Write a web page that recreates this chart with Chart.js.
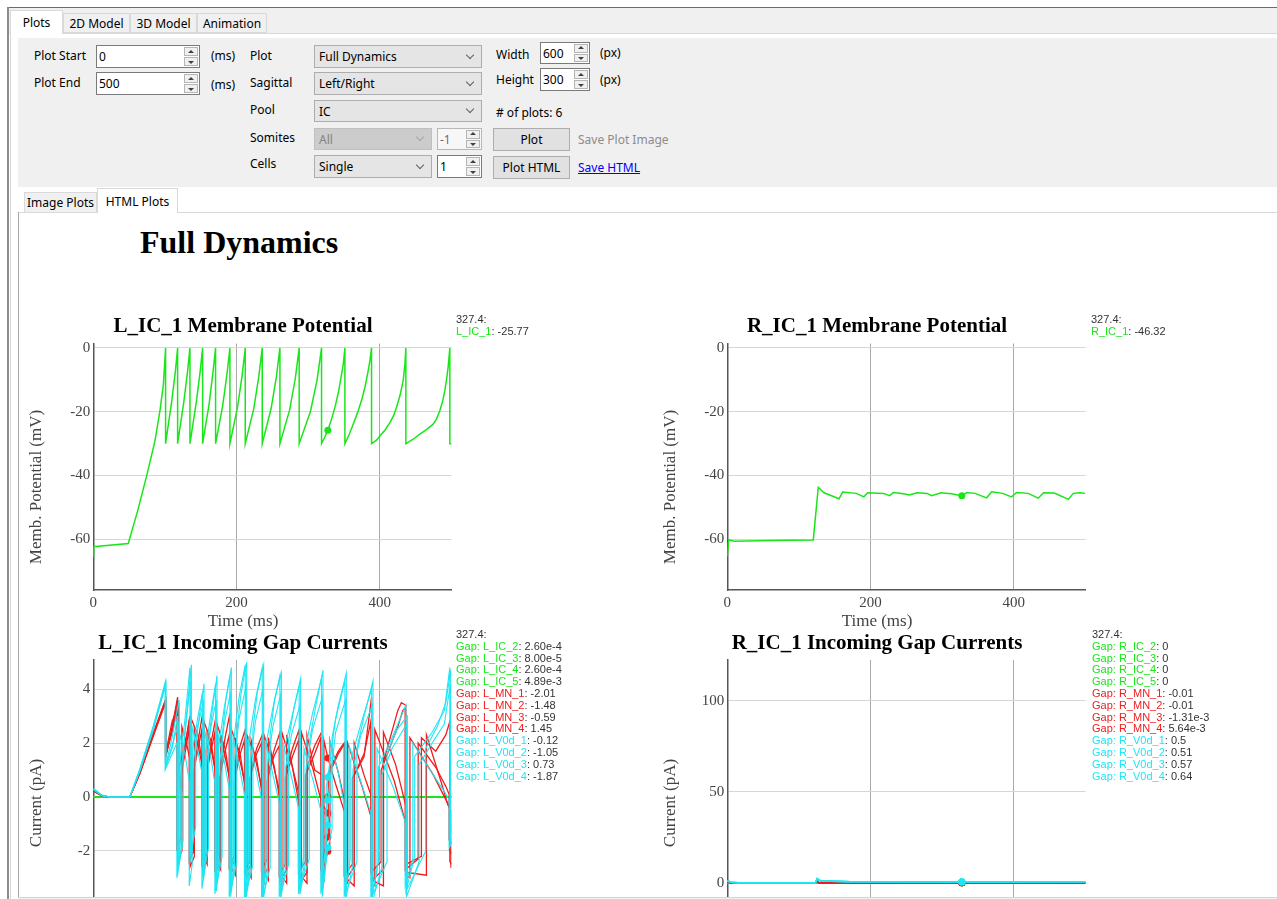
<!DOCTYPE html>
<html>
<head>
<meta charset="utf-8">
<title>Full Dynamics</title>
<script src="https://cdn.jsdelivr.net/npm/chart.js@4.4.1/dist/chart.umd.min.js"></script>
<style>
  html, body { margin: 0; padding: 0; }
  body { width: 1277px; height: 899px; overflow: hidden; position: relative; background: #fff;
         font-family: "Noto Sans", sans-serif; font-size: 12px; color: #000; }
  .a { position: absolute; }
  .lbl { position: absolute; line-height: 16px; white-space: nowrap; }
  .tab { position: absolute; box-sizing: border-box; border: 1px solid #d9d9d9; background: #f0f0f0;
         display: flex; align-items: center; justify-content: center; white-space: nowrap; }
  .tab.sel { background: #fff; border-bottom: none; z-index: 2; }
  .num { position: absolute; box-sizing: border-box; background: #fff; border: 1px solid #7a7a7a; }
  .num .v, .combo .v { position: absolute; top: 0; bottom: 0; display: flex; align-items: center; white-space: nowrap; }
  .num .v { left: 2px; }
  .num .sp { position: absolute; right: 1px; top: 1px; bottom: 1px; width: 14px; }
  .num .sp b { position: absolute; left: 0; right: 0; height: calc(50% - 0.5px); box-sizing: border-box;
               background: #f0f0f0; border: 1px solid #b5b5b5; }
  .num .sp b.up { top: 0; }
  .num .sp b.dn { bottom: 0; }
  .num .sp b::after { content: ''; position: absolute; left: 50%; top: 50%; margin-left: -3px;
                      border-left: 3px solid transparent; border-right: 3px solid transparent; }
  .num .sp b.up::after { border-bottom: 3px solid #404040; margin-top: -2px; }
  .num .sp b.dn::after { border-top: 3px solid #404040; margin-top: -1px; }
  .num.dis { background: #f7f7f7; border-color: #b8b8b8; color: #6d6d6d; }
  .combo { position: absolute; box-sizing: border-box; background: #e5e5e5; border: 1px solid #adadad; }
  .combo .v { left: 4px; }
  .combo::after { content: ''; position: absolute; right: 8px; top: 50%; width: 5px; height: 5px; margin-top: -5px;
                  border-right: 1px solid #606060; border-bottom: 1px solid #606060; transform: rotate(45deg); }
  .combo.dis { background: #cccccc; border-color: #bfbfbf; color: #838383; }
  .combo.dis::after { border-color: #a6a6a6; }
  .btn { position: absolute; box-sizing: border-box; background: #e1e1e1; border: 1px solid #adadad;
         display: flex; align-items: center; justify-content: center; white-space: nowrap; }
  #content { position: absolute; left: 0; top: 0; width: 1277px; height: 897px; clip-path: inset(213px 0 0 19px); }
  #content canvas { position: absolute; }
  h1 { position: absolute; margin: 0; left: 140px; top: 226px; font: bold 32px/32px "Liberation Serif", serif; color: #000; }
  .axt { position: absolute; font: 17px/17px "Liberation Serif", serif; color: #444; white-space: nowrap;
         transform: translate(-50%, -50%); }
  .axt.rot { transform: translate(-50%, -50%) rotate(-90deg); }
  .hov { position: absolute; font: 11px/11.8px "Liberation Sans", Arial, sans-serif; color: #333; white-space: nowrap; }
  .g { color: #19e619; } .r { color: #f01c1c; } .c { color: #1ee6f4; }
</style>
</head>
<body>

<!-- window frame and tab strip -->
<div class="a" style="left:8px;top:7px;width:1269px;height:1px;background:#6b6b6b"></div>
<div class="a" style="left:7px;top:7px;width:2px;height:892px;background:#8c8c8c"></div>
<div class="a" style="left:9px;top:8px;width:1268px;height:25px;background:#f0f0f0"></div>
<div class="a" style="left:9px;top:33px;width:1268px;height:1px;background:#d9d9d9"></div>
<div class="a" style="left:10px;top:33px;width:1px;height:866px;background:#d6d6d6"></div>
<div class="tab sel" style="left:10px;top:10px;width:53px;height:24px">Plots</div>
<div class="tab" style="left:63px;top:13px;width:67px;height:20px">2D Model</div>
<div class="tab" style="left:130px;top:13px;width:67px;height:20px">3D Model</div>
<div class="tab" style="left:197px;top:13px;width:70px;height:20px">Animation</div>

<!-- control panel -->
<div class="a" style="left:18px;top:38px;width:1259px;height:149px;background:#f0f0f0"></div>

<div class="lbl" style="left:34px;top:48px">Plot Start</div>
<div class="num" style="left:96px;top:45px;width:104px;height:23px"><span class="v">0</span><span class="sp"><b class="up"></b><b class="dn"></b></span></div>
<div class="lbl" style="left:211px;top:48px">(ms)</div>
<div class="lbl" style="left:34px;top:75px">Plot End</div>
<div class="num" style="left:96px;top:72px;width:104px;height:23px"><span class="v">500</span><span class="sp"><b class="up"></b><b class="dn"></b></span></div>
<div class="lbl" style="left:211px;top:77px">(ms)</div>

<div class="lbl" style="left:250px;top:48px">Plot</div>
<div class="combo" style="left:314px;top:45px;width:168px;height:23px"><span class="v">Full Dynamics</span></div>
<div class="lbl" style="left:250px;top:75px">Sagittal</div>
<div class="combo" style="left:314px;top:72px;width:168px;height:23px"><span class="v">Left/Right</span></div>
<div class="lbl" style="left:250px;top:102px">Pool</div>
<div class="combo" style="left:314px;top:100px;width:168px;height:22px"><span class="v">IC</span></div>
<div class="lbl" style="left:250px;top:130px">Somites</div>
<div class="combo dis" style="left:314px;top:128px;width:118px;height:22px"><span class="v">All</span></div>
<div class="num dis" style="left:437px;top:128px;width:45px;height:22px"><span class="v">-1</span><span class="sp"><b class="up"></b><b class="dn"></b></span></div>
<div class="lbl" style="left:250px;top:156px">Cells</div>
<div class="combo" style="left:314px;top:155px;width:118px;height:23px"><span class="v">Single</span></div>
<div class="num" style="left:437px;top:155px;width:45px;height:23px"><span class="v">1</span><span class="sp"><b class="up"></b><b class="dn"></b></span></div>

<div class="lbl" style="left:496px;top:47px">Width</div>
<div class="num" style="left:540px;top:42px;width:50px;height:22px"><span class="v">600</span><span class="sp"><b class="up"></b><b class="dn"></b></span></div>
<div class="lbl" style="left:600px;top:45px">(px)</div>
<div class="lbl" style="left:496px;top:72px">Height</div>
<div class="num" style="left:540px;top:68px;width:50px;height:23px"><span class="v">300</span><span class="sp"><b class="up"></b><b class="dn"></b></span></div>
<div class="lbl" style="left:600px;top:72px">(px)</div>
<div class="lbl" style="left:496px;top:105px"># of plots: 6</div>
<div class="btn" style="left:493px;top:128px;width:77px;height:23px">Plot</div>
<div class="lbl" style="left:578px;top:132px;width:91px;overflow:hidden;color:#8c8c8c">Save Plot Images</div>
<div class="btn" style="left:493px;top:156px;width:77px;height:23px">Plot HTML</div>
<div class="lbl" style="left:578px;top:160px;color:#0000ff;text-decoration:underline">Save HTML</div>

<!-- inner tabs and page border -->
<div class="a" style="left:18px;top:212px;width:1259px;height:1px;background:#d9d9d9"></div>
<div class="a" style="left:18px;top:212px;width:1px;height:686px;background:#a6a6a6"></div>
<div class="tab" style="left:24px;top:192px;width:73px;height:21px">Image Plots</div>
<div class="tab sel" style="left:97px;top:188px;width:81px;height:25px">HTML Plots</div>
<div class="a" style="left:18px;top:897px;width:1259px;height:1px;background:#d3d3d3"></div>
<div class="a" style="left:18px;top:898px;width:1259px;height:1px;background:#f2f2f2"></div>

<!-- html plots page -->
<div id="content">
  <h1>Full Dynamics</h1>

  <canvas id="lMemb" width="446" height="327" style="left:20px;top:305px"></canvas>
  <canvas id="rMemb" width="446" height="327" style="left:654px;top:305px"></canvas>
  <canvas id="lGap" width="446" height="341" style="left:20px;top:622px"></canvas>
  <canvas id="rGap" width="446" height="321" style="left:654px;top:622px"></canvas>

  <div class="axt rot" style="left:35px;top:487px">Memb. Potential (mV)</div>
  <div class="axt rot" style="left:669px;top:487px">Memb. Potential (mV)</div>
  <div class="axt" style="left:243px;top:620px">Time (ms)</div>
  <div class="axt" style="left:877px;top:620px">Time (ms)</div>
  <div class="axt rot" style="left:35px;top:803px">Current (pA)</div>
  <div class="axt rot" style="left:669px;top:803px">Current (pA)</div>

  <div class="hov" style="left:456px;top:314px">327.4:<br><span class="g">L_IC_1</span>: -25.77</div>
  <div class="hov" style="left:1091px;top:314px">327.4:<br><span class="g">R_IC_1</span>: -46.32</div>
  <div class="hov" style="left:456px;top:629px">327.4:<br>
    <span class="g">Gap: L_IC_2</span>: 2.60e-4<br>
    <span class="g">Gap: L_IC_3</span>: 8.00e-5<br>
    <span class="g">Gap: L_IC_4</span>: 2.60e-4<br>
    <span class="g">Gap: L_IC_5</span>: 4.89e-3<br>
    <span class="r">Gap: L_MN_1</span>: -2.01<br>
    <span class="r">Gap: L_MN_2</span>: -1.48<br>
    <span class="r">Gap: L_MN_3</span>: -0.59<br>
    <span class="r">Gap: L_MN_4</span>: 1.45<br>
    <span class="c">Gap: L_V0d_1</span>: -0.12<br>
    <span class="c">Gap: L_V0d_2</span>: -1.05<br>
    <span class="c">Gap: L_V0d_3</span>: 0.73<br>
    <span class="c">Gap: L_V0d_4</span>: -1.87</div>
  <div class="hov" style="left:1092px;top:629px">327.4:<br>
    <span class="g">Gap: R_IC_2</span>: 0<br>
    <span class="g">Gap: R_IC_3</span>: 0<br>
    <span class="g">Gap: R_IC_4</span>: 0<br>
    <span class="g">Gap: R_IC_5</span>: 0<br>
    <span class="r">Gap: R_MN_1</span>: -0.01<br>
    <span class="r">Gap: R_MN_2</span>: -0.01<br>
    <span class="r">Gap: R_MN_3</span>: -1.31e-3<br>
    <span class="r">Gap: R_MN_4</span>: 5.64e-3<br>
    <span class="c">Gap: R_V0d_1</span>: 0.5<br>
    <span class="c">Gap: R_V0d_2</span>: 0.51<br>
    <span class="c">Gap: R_V0d_3</span>: 0.57<br>
    <span class="c">Gap: R_V0d_4</span>: 0.64</div>
</div>

<script>
// Axis ticks
const timeTicks = [0, 200, 400];
const membTicks = [-60, -40, -20, 0];
const lGapTicks = [-4, -2, 0, 2, 4];
const rGapTicks = [0, 50, 100];
const hoverTime = 327.4;

// L_IC_1 membrane potential (ms, mV)
const lIcTime = [0, 0.5, 48.8, 62, 74.4, 86, 93, 97.9, 100.9,
  100.9, 109.3, 114.5, 117.7, 117.7, 126.3, 131.5, 134.9, 134.9, 143.8, 149.1, 152.6,
  152.6, 161.7, 167.1, 170.7, 170.7, 180.7, 186.7, 190.7, 190.7, 201.4, 207.8, 212.1,
  212.1, 224, 231, 235.8, 235.8, 248.2, 255.6, 260.5, 260.5, 274, 282, 287.4,
  287.4, 303, 312.4, 318.6,
  318.6, 323, 327.4, 333, 338, 342.5, 346, 349, 351.2,
  351.2, 357, 362.8, 369, 375, 379.5, 383, 386, 388.4,
  388.4, 395, 400, 407, 414, 419, 423.3, 428, 432.6, 435, 436.3,
  436.3, 446, 455.8, 465, 474.4, 479, 483.7, 487.5, 490.7, 493, 495.3, 497.7,
  497.7, 500];
const lIcVolt = [-65.5, -62.3, -61.3, -51, -40.2, -29.2, -19.7, -11.3, 0,
  -30, -17, -7.5, 0, -30, -17, -7.5, 0, -30, -17, -7.5, 0,
  -30, -17.5, -7.5, 0, -30, -18, -8, 0, -30, -18.5, -8.5, 0,
  -30, -19, -9, 0, -30, -19, -9, 0, -30, -19.5, -9.5, 0,
  -30, -20, -10, 0,
  -30, -28, -25.77, -22, -18, -13.5, -9, -5, 0,
  -30, -27.2, -23.9, -20.2, -16, -12, -8, -4.2, 0,
  -30, -29, -27.6, -25.8, -23.4, -21.3, -18.6, -15, -10.2, -5, 0,
  -30, -28.7, -27, -25.6, -23.9, -22.3, -19.7, -16.8, -13.4, -10, -6, 0,
  -30, -30];

// R_IC_1 membrane potential (ms, mV)
const rIcTime = [0, 2, 10, 60, 120, 127, 135, 156, 161, 180, 190.6, 196, 218, 226.6, 232, 246, 254,
  265, 279, 285, 298.6, 312.5, 327.4, 334.6, 345.7, 362, 369, 384.5, 396.7, 404, 420, 434,
  441.5, 456.5, 476, 483, 492.5, 500];
const rIcVolt = [-65.4, -60.2, -60.6, -60.4, -60.2, -43.7, -45.4, -47.3, -45.2, -45.6, -46.7, -45.4,
  -45.6, -46.3, -45.3, -45.7, -46.1, -45.4, -45.6, -46.3, -45.4, -45.7, -46.32, -45.3, -45.6,
  -47.0, -45.1, -45.6, -46.7, -45.3, -45.6, -47.1, -45.4, -45.5, -47.5, -45.6, -45.4, -45.6];

// L_IC_1 incoming gap currents, [ms, pA]
const lGapIc2 = [[0, 0], [327.4, 0.00026], [500, 0]];
const lGapIc3 = [[0, 0], [327.4, 0.00008], [500, 0]];
const lGapIc4 = [[0, 0], [327.4, 0.00026], [500, 0]];
const lGapIc5 = [[0, 0], [327.4, 0.00489], [500, 0]];

const lGapMn1 = [[0,0.24],[4,0.17],[12,0.04],[22,0],[51,0],[65,0.88],[84,2.3],[100.9,3.55],
  [100.9,1.45],[110,2.5],
  [117.7,3.6],[117.7,-2.4],[123.7,-2.0],[123.7,1.0],[130,2.2],
  [134.9,3.0],[134.9,-2.6],[141.1,-2.2],[141.1,1.1],[147,2.2],
  [152.6,3.1],[152.6,-2.7],[158.9,-2.3],[158.9,1.0],[165,2.1],
  [170.7,2.9],[170.7,-2.8],[177.7,-2.4],[177.7,1.1],[184,2.2],
  [190.7,3.1],[190.7,-2.7],[198.2,-2.3],[198.2,1.0],[205,1.9],
  [212.1,2.5],[212.1,-2.9],[220.4,-2.5],[220.4,1.0],[228,1.8],
  [235.8,2.3],[235.8,-3.0],[244.4,-2.6],[244.4,0.9],[252,1.7],
  [260.5,2.4],[260.5,-3.1],[269.9,-2.7],[269.9,1.0],[278,1.8],
  [287.4,2.5],[287.4,-3.2],[298.3,-2.8],[298.3,1.1],[309,1.9],
  [318.6,2.4],[318.6,-3.0],[327.4,-2.01],[330,-1.8],[330,0.9],[342,1.6],
  [351.2,2.0],[351.2,-3.1],[364.2,-2.6],[364.2,0.8],[378,1.5],
  [388.4,3.7],[388.4,-3.1],[405,-2.7],[405,1.3],[425,3.2],[430,3.5],
  [436.3,3.4],[436.3,-2.5],[458,-2.2],[458,2.2],[478,1.7],[492,2.3],
  [497.7,2.8],[497.7,-2.0],[500,-2.1]];

const lGapMn2 = [[0,0.26],[4,0.19],[12,0.05],[22,0],[51,0],[65,0.92],[84,2.38],[100.9,3.62],
  [100.9,1.55],[110,2.4],
  [116.7,3.2],[116.7,-1.9],[122.5,-1.5],[122.5,0.8],[130,1.9],
  [133.9,2.6],[133.9,-2.4],[139.9,-2.0],[139.9,0.9],[147,1.9],
  [151.6,2.5],[151.6,-2.5],[157.7,-2.1],[157.7,0.8],[165,1.8],
  [169.7,2.4],[169.7,-2.7],[176.3,-2.3],[176.3,0.7],[184,1.7],
  [189.7,2.3],[189.7,-2.6],[196.7,-2.2],[196.7,0.6],[205,1.6],
  [211.1,2.1],[211.1,-2.8],[218.7,-2.4],[218.7,0.7],[228,1.6],
  [234.8,2.0],[234.8,-2.7],[242.7,-2.3],[242.7,0.6],[252,1.5],
  [259.5,1.9],[259.5,-2.9],[268,-2.5],[268,0.7],[278,1.5],
  [286.4,2.1],[286.4,-2.8],[296.1,-2.4],[296.1,0.8],[309,1.6],
  [317.6,2.2],[317.6,-2.6],[327.4,-1.48],[328,-1.4],[328,0.9],[342,1.7],
  [350.2,2.0],[350.2,-2.9],[361.6,-2.5],[361.6,0.7],[378,1.6],
  [387.4,2.8],[387.4,-2.8],[401.8,-2.4],[401.8,1.0],[425,2.6],[432,3.2],
  [435.3,3.3],[435.3,-2.7],[453.5,-2.3],[453.5,2.0],[478,1.1],[492,0.4],
  [496.7,0.1],[496.7,-1.6],[500,-1.7]];

const lGapMn3 = [[0,0.22],[4,0.16],[12,0.04],[22,0],[51,0],[65,0.86],[84,2.28],[100.9,3.5],
  [100.9,1.6],[110,2.8],
  [119.2,3.4],[119.2,0.8],[123.7,0.2],[123.7,2.6],[130,2.0],
  [136.4,1.2],[136.4,-1.8],[141.1,-2.1],[141.1,2.5],[147,1.8],
  [154.1,0.9],[154.1,-2.2],[158.9,-2.5],[158.9,2.4],[165,1.7],
  [172.2,0.7],[172.2,-2.4],[177.7,-2.7],[177.7,2.3],[184,1.5],
  [192.2,0.4],[192.2,-2.6],[198.2,-2.9],[198.2,2.2],[205,1.3],
  [213.6,0.3],[213.6,-2.7],[220.4,-3.0],[220.4,2.1],[228,1.2],
  [237.3,0.1],[237.3,-2.8],[244.4,-3.1],[244.4,2.2],[252,1.1],
  [262,0.0],[262,-2.9],[269.9,-3.2],[269.9,2.3],[278,1.1],
  [288.9,-0.1],[288.9,-2.9],[298.3,-3.2],[298.3,2.3],[309,1.0],
  [320.1,0.8],[320.1,-0.3],[327.4,-0.59],[330,-0.7],[330,2.1],[342,0.9],
  [352.7,-0.4],[352.7,-3.0],[364.2,-3.3],[364.2,2.0],[378,0.8],
  [389.9,-0.1],[389.9,-3.1],[405,-3.3],[405,2.4],[422,1.2],
  [437.8,-0.5],[437.8,-2.8],[465,-2.9],[465,2.3],[485,0.6],[495,-0.3],
  [499.2,-0.5],[499.2,-2.6],[500,-2.6]];

const lGapMn4 = [[0,0.25],[4,0.18],[12,0.05],[22,0],[51,0],[65,0.9],[84,2.35],[100.9,3.6],
  [100.9,1.5],[110,2.6],
  [117.7,3.7],[117.7,0.9],[124,1.5],[130,2.2],
  [134.9,3.0],[134.9,-1.2],[136.7,-1.4],[136.7,2.9],[146,2.3],
  [152.6,1.2],[152.6,-2.2],[154.4,-2.3],[154.4,2.8],[164,2.1],
  [170.7,0.9],[170.7,-2.5],[172.7,-2.6],[172.7,2.7],[184,1.8],
  [190.7,0.6],[190.7,-2.7],[192.8,-2.8],[192.8,2.5],[205,1.6],
  [212.1,0.3],[212.1,-2.9],[214.5,-3.0],[214.5,2.3],[228,1.4],
  [235.8,0.1],[235.8,-3.1],[238.3,-3.2],[238.3,2.3],[252,1.2],
  [260.5,-0.1],[260.5,-3.2],[263.2,-3.3],[263.2,2.4],[278,1.1],
  [287.4,-0.3],[287.4,-3.0],[290.5,-3.1],[290.5,2.4],[307,1.0],
  [318.6,-0.2],[318.6,-3.0],[321.9,-3.1],[321.9,2.1],[327.4,1.45],[338,0.5],
  [351.2,-0.6],[351.2,-3.1],[355,-3.2],[355,2.0],[375,0.4],
  [388.4,-0.8],[388.4,-3.2],[393,-3.3],[393,2.5],[420,0.6],
  [436.3,-1.0],[436.3,-2.9],[442,-3.0],[442,2.2],[475,0.8],
  [497.7,-0.4],[497.7,-2.4],[500,-2.5]];

const lGapV0d1 = [[0,0.28],[4,0.2],[12,0.05],[22,0],[51,0],[65,1.0],[84,2.6],[101.5,4.2],
  [101.5,1.2],[110,1.9],
  [118.7,2.7],[118.7,-2.7],[122.9,-1.9],[122.9,1.0],[128,2.4],
  [135.9,4.3],[135.9,-2.4],[140.2,-1.4],[140.2,1.4],[145.5,2.6],
  [153.6,3.5],[153.6,-3.1],[158,-2.0],[158,1.3],[163.5,2.5],
  [171.7,3.6],[171.7,-3.5],[176.7,-2.3],[176.7,1.3],[182.7,2.7],
  [191.7,3.9],[191.7,-3.7],[197.1,-2.5],[197.1,1.3],[203.5,2.9],
  [213.1,4.1],[213.1,-3.8],[219.2,-2.6],[219.2,1.3],[226.3,2.8],
  [236.8,4.0],[236.8,-3.9],[243.2,-2.7],[243.2,1.2],[250.6,2.6],
  [261.5,3.8],[261.5,-3.8],[268.6,-2.6],[268.6,1.1],[276.6,2.3],
  [288.4,3.4],[288.4,-3.6],[296.8,-2.4],[296.8,1.0],[306,2.5],
  [319.6,3.7],[319.6,-3.7],[324,-2.6],[324,-0.6],[327.4,-0.12],[338.2,2.4],
  [352.2,3.6],[352.2,-3.8],[362.4,-2.5],[362.4,1.0],[373.5,2.3],
  [389.4,3.4],[389.4,-3.9],[402.8,-2.6],[402.8,0.8],[417,1.8],
  [437.3,2.7],[437.3,-3.7],[454.7,-2.4],[454.7,1.2],[473,2.0],[490,2.7],
  [498.5,4.2],[498.5,-1.8],[500,-1.5]];

const lGapV0d2 = [[0,0.32],[4,0.24],[12,0.07],[22,0],[51,0],[65,0.95],[84,2.5],[100.2,4.1],
  [100.2,1.0],[110,1.6],
  [116.7,2.0],[116.7,-3.0],[121,-2.2],[121,2.3],[128,1.6],
  [133.9,0.6],[133.9,-3.3],[138,-2.5],[138,2.6],[146,1.7],
  [151.6,0.9],[151.6,-3.4],[156,-2.6],[156,2.4],[164,1.5],
  [169.7,0.5],[169.7,-3.6],[174.5,-2.7],[174.5,2.3],[183,1.3],
  [189.7,0.3],[189.7,-3.7],[195,-2.8],[195,2.2],[204,1.1],
  [211.1,0.1],[211.1,-3.9],[217,-2.9],[217,2.1],[227,1.0],
  [234.8,-0.1],[234.8,-3.8],[241,-2.8],[241,2.0],[251,0.8],
  [259.5,-0.2],[259.5,-3.7],[266,-2.7],[266,1.9],[277,0.7],
  [286.4,-0.4],[286.4,-3.6],[294,-2.6],[294,1.8],[307,0.6],
  [317.6,-0.5],[317.6,-3.6],[323.5,-2.0],[327.4,-1.05],[330,-0.6],[330,2.1],[342,0.9],
  [350.2,-0.3],[350.2,-3.7],[357,-2.7],[357,1.9],[373,0.6],
  [387.4,-0.6],[387.4,-3.8],[396,-2.8],[396,1.8],[418,0.4],
  [435.3,-0.9],[435.3,-3.3],[446,-2.3],[446,2.0],[470,1.0],[490,0.2],
  [496.7,-0.1],[496.7,-1.9],[500,-1.7]];

const lGapV0d3 = [[0,0.3],[4,0.22],[12,0.06],[22,0],[51,0],[65,1.05],[84,2.65],[100.9,4.25],
  [100.9,1.1],[110,1.8],
  [117.7,3.0],[117.7,-2.9],[121.1,-1.7],[121.1,1.3],[128,2.9],
  [134.9,4.8],[134.9,-2.2],[138.4,-1.0],[138.4,1.7],[145.5,2.9],
  [152.6,3.9],[152.6,-3.0],[156.2,-1.8],[156.2,1.6],[163.5,3.0],
  [170.7,4.2],[170.7,-3.3],[174.7,-2.1],[174.7,1.8],[182.7,3.3],
  [190.7,4.5],[190.7,-3.5],[195,-2.3],[195,1.9],[203.5,3.7],
  [212.1,4.9],[212.1,-3.6],[216.8,-2.4],[216.8,2.0],[226.3,3.6],
  [235.8,4.8],[235.8,-3.7],[240.7,-2.5],[240.7,1.9],[250.6,3.3],
  [260.5,4.5],[260.5,-3.6],[265.9,-2.4],[265.9,1.7],[276.6,2.9],
  [287.4,4.1],[287.4,-3.4],[293.6,-2.2],[293.6,1.5],[306,3.1],
  [318.6,4.4],[318.6,-3.5],[325.1,-2.3],[325.1,0.4],[327.4,0.73],[338.2,2.9],
  [351.2,4.3],[351.2,-3.6],[358.6,-2.3],[358.6,1.3],[373.5,2.7],
  [388.4,4.0],[388.4,-3.7],[398,-2.4],[398,1.1],[417,2.2],
  [436.3,3.4],[436.3,-3.5],[448.6,-2.2],[448.6,1.5],[473,2.4],[490,3.2],
  [497.7,4.8],[497.7,-1.5],[500,-1.2]];

const lGapV0d4 = [[0,0.3],[4,0.21],[12,0.05],[22,0],[51,0],[65,1.02],[84,2.62],[100.9,4.3],
  [100.9,1.15],[110,2.2],
  [119.7,3.6],[119.7,-2.5],[125.4,-1.6],[125.4,1.6],[130,3.0],
  [136.9,4.9],[136.9,-2.0],[142.9,-1.1],[142.9,1.9],[148,3.0],
  [154.6,4.2],[154.6,-2.8],[160.7,-1.9],[160.7,2.0],[166,3.2],
  [172.7,4.5],[172.7,-3.2],[179.7,-2.2],[179.7,2.2],[185,3.6],
  [192.7,4.8],[192.7,-3.4],[200.3,-2.4],[200.3,2.4],[206,3.8],
  [214.1,5.0],[214.1,-3.5],[222.8,-2.5],[222.8,2.5],[229,3.9],
  [237.8,4.9],[237.8,-3.6],[246.9,-2.6],[246.9,2.3],[253,3.6],
  [262.5,4.6],[262.5,-3.5],[272.6,-2.5],[272.6,2.1],[280,3.3],
  [289.4,4.4],[289.4,-3.3],[301.4,-2.3],[301.4,2.0],[310,3.3],
  [320.6,4.7],[320.6,-3.4],[327.4,-1.87],[333.3,-1.2],[333.3,2.2],[342,3.4],
  [353.2,4.6],[353.2,-3.5],[368,-2.4],[368,1.8],[378,3.0],
  [390.4,4.3],[390.4,-3.6],[410,-2.4],[410,1.6],[424,2.5],
  [438.3,3.0],[438.3,-3.4],[464,-2.0],[464,1.8],[480,2.6],[492,3.5],
  [499,4.7],[499,-1.2],[500,-1.0]];

// R_IC_1 incoming gap currents, [ms, pA]
const rGapIc = [[0, 0], [327.4, 0], [500, 0]];   // R_IC_2 .. R_IC_5 are all flat
const rGapMn1 = [[0,0.5],[5,0.1],[15,0],[123,0],[125.5,0.9],[128,-0.3],[150,-0.1],[327.4,-0.01],[500,0]];
const rGapMn2 = [[0,0.45],[5,0.1],[15,0],[123,0],[125.5,0.8],[128,-0.25],[150,-0.1],[327.4,-0.01],[500,0]];
const rGapMn3 = [[0,0.4],[5,0.08],[15,0],[123,0],[125.5,0.7],[128,-0.2],[150,-0.05],[327.4,-0.00131],[500,0]];
const rGapMn4 = [[0,0.35],[5,0.07],[15,0],[123,0],[125.5,0.6],[128,-0.15],[150,0.02],[327.4,0.00564],[500,0.01]];
const rGapV0d1 = [[0,1.0],[5,0.3],[15,0.1],[123,0.05],[125.5,2.2],[130,1.0],[170,0.6],[327.4,0.5],[500,0.55]];
const rGapV0d2 = [[0,1.0],[5,0.3],[15,0.1],[123,0.05],[125.5,2.1],[130,1.0],[170,0.6],[327.4,0.51],[500,0.55]];
const rGapV0d3 = [[0,1.1],[5,0.3],[15,0.1],[123,0.05],[125.5,2.3],[130,1.1],[170,0.65],[327.4,0.57],[500,0.6]];
const rGapV0d4 = [[0,1.2],[5,0.35],[15,0.1],[123,0.05],[125.5,2.4],[130,1.2],[170,0.7],[327.4,0.64],[500,0.65]];

const icColor = '#19e619';
const mnColor = '#f01c1c';
const v0dColor = '#1ee6f4';

function fromColumns(times, values) {
    return times.map((t, i) => ({ x: t, y: values[i] }));
}

function fromPairs(pairs) {
    return pairs.map(p => ({ x: p[0], y: p[1] }));
}

// one line trace, with the hover marker drawn at hoverTime
function trace(points, color, order, width) {
    return {
        data: points,
        borderColor: color,
        backgroundColor: color,
        borderWidth: width || 1.5,
        order: order,
        fill: false,
        tension: 0,
        pointRadius: ctx => (ctx.raw && ctx.raw.x === hoverTime ? 3.5 : 0),
        pointBorderWidth: 0,
        pointHoverRadius: 0
    };
}

function plotOptions(title, titlePad, yMin, yMax, yTicks) {
    const tickFont = { family: 'Liberation Serif', size: 15 };
    return {
        responsive: false,
        animation: false,
        devicePixelRatio: 1,
        events: [],
        // same padding both sides so the title sits in the middle of the canvas
        layout: { padding: { left: 14.5, right: 14.5, top: 0, bottom: 0 } },
        plugins: {
            legend: { display: false },
            tooltip: { enabled: false },
            title: {
                display: true,
                text: title,
                color: '#000',
                font: { family: 'Liberation Serif', size: 21, weight: 'bold' },
                padding: titlePad
            }
        },
        scales: {
            x: {
                type: 'linear', min: 0, max: 500,
                afterBuildTicks: s => { s.ticks = timeTicks.map(v => ({ value: v })); },
                afterFit: s => { s.height = 42; },
                grid: {
                    color: ctx => (ctx.tick && ctx.tick.value === 0 ? 'rgba(0,0,0,0)' : '#a9a9a9'),
                    drawTicks: false
                },
                border: { color: '#555', width: 1.5 },
                ticks: { color: '#444', padding: 4, font: tickFont, maxRotation: 0, callback: v => String(v) }
            },
            y: {
                type: 'linear', min: yMin, max: yMax,
                afterBuildTicks: s => { s.ticks = yTicks.map(v => ({ value: v })); },
                afterFit: s => { s.width = 58.8; },
                grid: { color: '#d6d6d6', drawTicks: false },
                border: { color: '#555', width: 1.5 },
                ticks: { color: '#444', padding: 3, font: tickFont, callback: v => String(v) }
            }
        }
    };
}

const topPad = { top: 9.4, bottom: 3.9 };
const bottomPad = { top: 9, bottom: 3.8 };

new Chart(document.getElementById('lMemb'), {
    type: 'line',
    data: { datasets: [trace(fromColumns(lIcTime, lIcVolt), icColor, 1)] },
    options: plotOptions('L_IC_1 Membrane Potential', topPad, -75.9, 1.4, membTicks)
});

new Chart(document.getElementById('rMemb'), {
    type: 'line',
    data: { datasets: [trace(fromColumns(rIcTime, rIcVolt), icColor, 1)] },
    options: plotOptions('R_IC_1 Membrane Potential', topPad, -75.9, 1.4, membTicks)
});

new Chart(document.getElementById('lGap'), {
    type: 'line',
    data: {
        datasets: [
            trace(fromPairs(lGapIc2), icColor, 3, 1.5), trace(fromPairs(lGapIc3), icColor, 3, 1.5),
            trace(fromPairs(lGapIc4), icColor, 3, 1.5), trace(fromPairs(lGapIc5), icColor, 3, 1.5),
            trace(fromPairs(lGapMn1), mnColor, 2, 1.3), trace(fromPairs(lGapMn2), mnColor, 2, 1.3),
            trace(fromPairs(lGapMn3), mnColor, 2, 1.3), trace(fromPairs(lGapMn4), mnColor, 2, 1.3),
            trace(fromPairs(lGapV0d1), v0dColor, 1, 1.1), trace(fromPairs(lGapV0d2), v0dColor, 1, 1.1),
            trace(fromPairs(lGapV0d3), v0dColor, 1, 1.1), trace(fromPairs(lGapV0d4), v0dColor, 1, 1.1)
        ]
    },
    options: plotOptions('L_IC_1 Incoming Gap Currents', bottomPad, -4.6, 5.08, lGapTicks)
});

new Chart(document.getElementById('rGap'), {
    type: 'line',
    data: {
        datasets: [
            trace(fromPairs(rGapIc), icColor, 3), trace(fromPairs(rGapIc), icColor, 3),
            trace(fromPairs(rGapIc), icColor, 3), trace(fromPairs(rGapIc), icColor, 3),
            trace(fromPairs(rGapMn1), mnColor, 2), trace(fromPairs(rGapMn2), mnColor, 2),
            trace(fromPairs(rGapMn3), mnColor, 2), trace(fromPairs(rGapMn4), mnColor, 2),
            trace(fromPairs(rGapV0d1), v0dColor, 1), trace(fromPairs(rGapV0d2), v0dColor, 1),
            trace(fromPairs(rGapV0d3), v0dColor, 1), trace(fromPairs(rGapV0d4), v0dColor, 1)
        ]
    },
    options: plotOptions('R_IC_1 Incoming Gap Currents', bottomPad, -10, 122.5, rGapTicks)
});
</script>
</body>
</html>
